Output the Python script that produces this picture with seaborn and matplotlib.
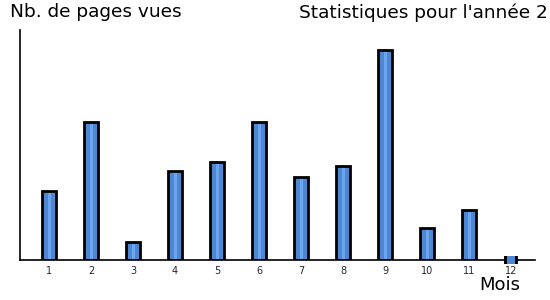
import matplotlib
matplotlib.use("Agg")
import matplotlib.pyplot as plt
import seaborn as sns
import pandas as pd
import numpy as np

months = [1, 2, 3, 4, 5, 6, 7, 8, 9, 10, 11, 12]
month_labels = ["1", "2", "3", "4", "5", "6", "7", "8", "9", "10", "11", "12"]
page_views = [690, 1380, 180, 890, 980, 1380, 830, 940, 2100, 320, 500, 0]

sns.set_theme(style="white")
plt.rcParams['font.family'] = ['DejaVu Sans']

df = pd.DataFrame({"mois": months, "vues": page_views})

fig = plt.figure(figsize=(5.5, 3), dpi=100)
ax = fig.add_axes([20/550, 40/300, 515/550, 230/300])

dark = "#4f86d0"
light = "#6aa6f0"

# bar fill
ax.bar(df["mois"], df["vues"], width=0.31, color=dark, linewidth=0, zorder=2)
# light centre stripe
ax.bar(df["mois"] + 0.02, df["vues"], width=0.07, color=light, linewidth=0, zorder=3)
# black outline
ax.bar(df["mois"], df["vues"], width=0.31, fill=False, edgecolor="black", linewidth=2.0, zorder=4)

# zero-valued months drawn as small blob on axis
zero = df[df["vues"] == 0]
ax.scatter(zero["mois"], zero["vues"], marker="|", s=40, color="black", linewidths=10, zorder=4, clip_on=False)
ax.scatter(zero["mois"], zero["vues"], marker="s", s=40, color=dark, edgecolor="none", zorder=5, clip_on=False)

ax.set_xlim(1 - 29/42, 12 + 24/42)
ax.set_ylim(0, 2300)
ax.set_xticks(months)
ax.set_xticklabels(month_labels, fontsize=7)
ax.set_yticks([])
ax.tick_params(axis="x", length=0, pad=4)
for s in ["top", "right"]:
    ax.spines[s].set_visible(False)
ax.spines["left"].set_color("black")
ax.spines["bottom"].set_color("black")
ax.spines["left"].set_linewidth(1.2)
ax.spines["bottom"].set_linewidth(1.2)

fig.text(10/550, 1 - 3/300, "Nb. de pages vues", ha="left", va="top", fontsize=13.3, color="black")
fig.text(299/550, 1 - 3/300, "Statistiques pour l'année 2", ha="left", va="top", fontsize=13.3, color="black")
fig.text(500/550, 1 - 276/300, "Mois", ha="center", va="top", fontsize=13, color="black")

fig.savefig("out.png", dpi=100)
